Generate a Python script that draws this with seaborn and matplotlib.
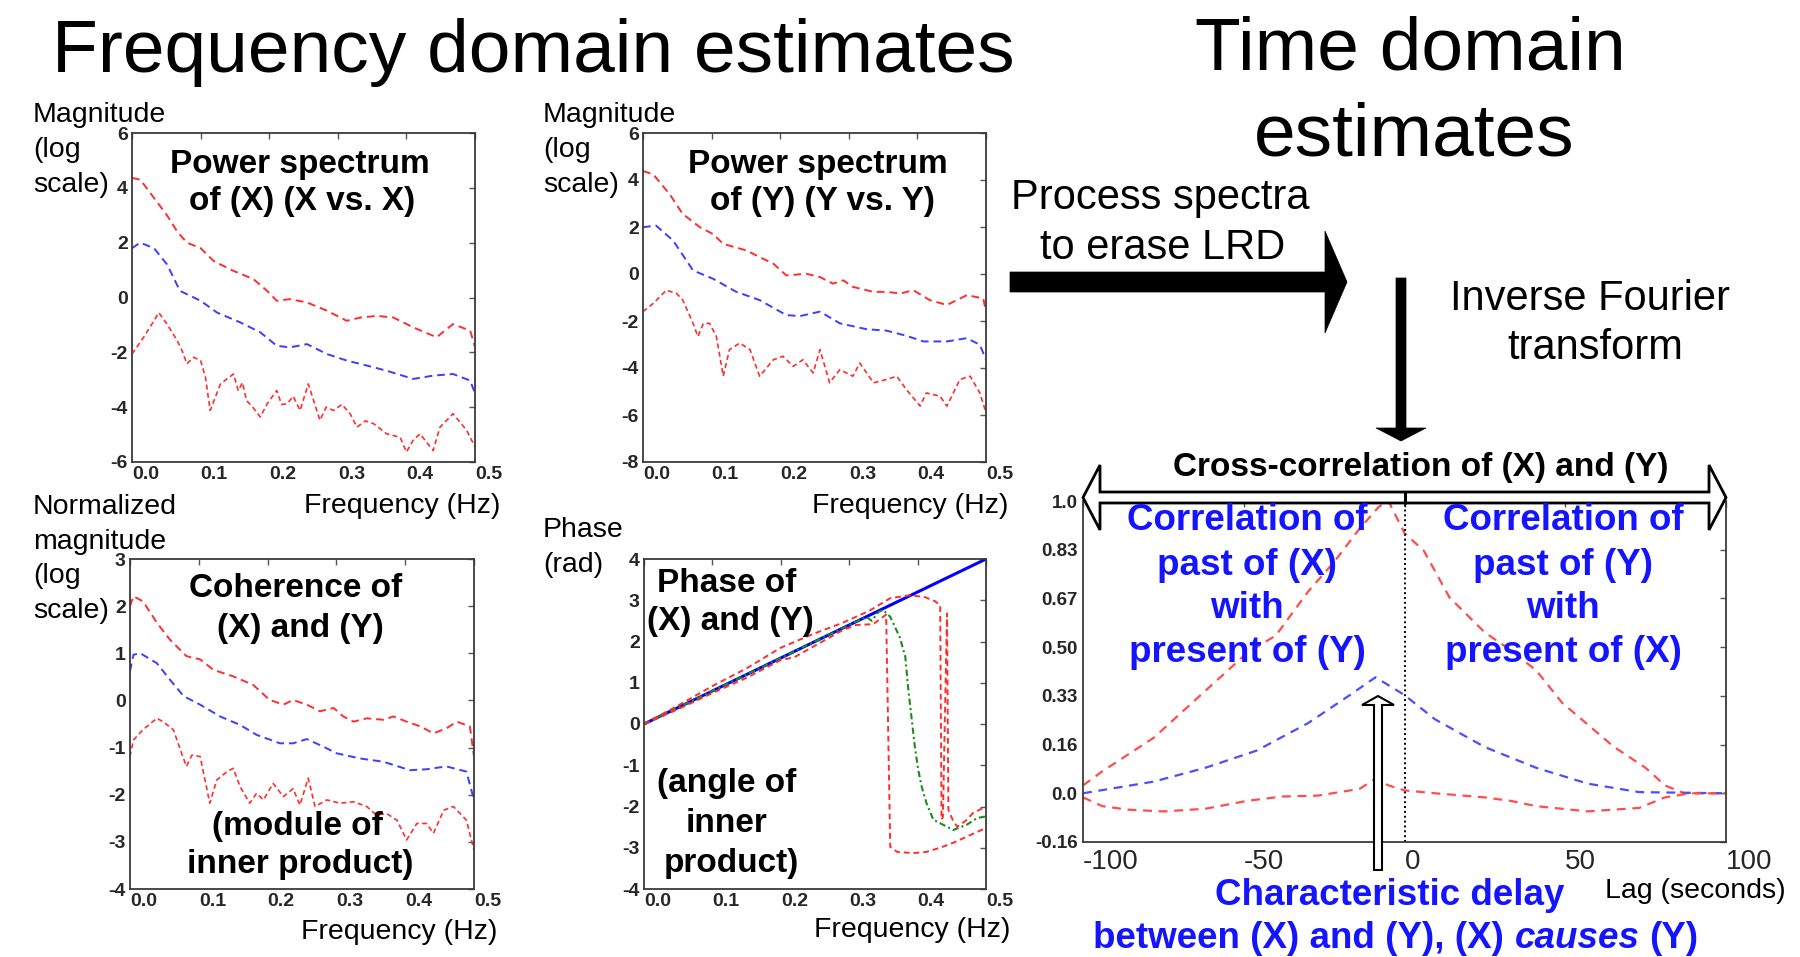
import matplotlib
matplotlib.use('Agg')
import matplotlib.pyplot as plt
from matplotlib.patches import Polygon
import seaborn as sns

# ---------------- data ----------------
freq_ticks = [0.0, 0.1, 0.2, 0.3, 0.4, 0.5]
freq_labels = ['0.0', '0.1', '0.2', '0.3', '0.4', '0.5']

# power spectrum of X (upper bound, estimate, lower bound)
psx_hi_f = [0.0, 0.012, 0.036, 0.051, 0.066, 0.08, 0.1, 0.119, 0.148, 0.177, 0.197, 0.211,
            0.23, 0.255, 0.284, 0.313, 0.333, 0.357, 0.381, 0.41, 0.444, 0.468, 0.493, 0.5]
psx_hi_v = [4.36, 4.3, 3.5, 3.0, 2.4, 2.0, 1.8, 1.33, 0.97, 0.67, 0.24, -0.12,
            -0.06, -0.18, -0.48, -0.85, -0.73, -0.67, -0.73, -1.09, -1.45, -0.97, -1.21, -1.8]
psx_mid_f = [0.0, 0.012, 0.032, 0.051, 0.07, 0.1, 0.124, 0.158, 0.187, 0.211, 0.23, 0.255,
             0.284, 0.313, 0.342, 0.371, 0.41, 0.439, 0.468, 0.493, 0.5]
psx_mid_v = [1.8, 2.0, 1.8, 1.21, 0.24, -0.12, -0.55, -0.91, -1.27, -1.76, -1.82, -1.7,
             -2.06, -2.3, -2.48, -2.67, -2.97, -2.85, -2.79, -3.03, -3.5]
psx_lo_f = [0.0, 0.017, 0.032, 0.039, 0.051, 0.066, 0.073, 0.08, 0.09, 0.1, 0.107, 0.114,
            0.129, 0.148, 0.155, 0.161, 0.167, 0.176, 0.187, 0.197, 0.211, 0.218, 0.226, 0.235,
            0.245, 0.257, 0.274, 0.283, 0.294, 0.306, 0.318, 0.328, 0.34, 0.352, 0.371, 0.391,
            0.4, 0.41, 0.42, 0.43, 0.439, 0.449, 0.468, 0.488, 0.5]
psx_lo_v = [-2.06, -1.45, -0.85, -0.55, -0.97, -1.58, -1.94, -2.42, -2.18, -2.3, -2.9, -4.12,
            -3.15, -2.79, -3.4, -3.1, -3.76, -4.0, -4.36, -3.88, -3.39, -3.9, -3.88, -3.6,
            -4.12, -3.15, -4.48, -4.0, -4.12, -3.9, -4.24, -4.73, -4.5, -4.6, -4.97, -5.1,
            -5.64, -5.2, -4.97, -5.3, -5.58, -4.73, -4.24, -4.85, -5.45]

# power spectrum of Y
psy_hi_f = [0.0, 0.015, 0.039, 0.058, 0.083, 0.102, 0.117, 0.151, 0.17, 0.19, 0.209, 0.238,
            0.258, 0.277, 0.292, 0.306, 0.336, 0.355, 0.375, 0.394, 0.418, 0.443, 0.472, 0.496, 0.5]
psy_hi_v = [4.38, 4.24, 3.39, 2.55, 1.99, 1.7, 1.28, 1.0, 0.72, 0.44, -0.06, 0.01,
            -0.13, -0.41, -0.27, -0.55, -0.76, -0.76, -0.83, -0.69, -1.11, -1.32, -0.9, -1.04, -1.6]
psy_mid_f = [0.0, 0.019, 0.044, 0.073, 0.102, 0.136, 0.17, 0.209, 0.229, 0.258, 0.287, 0.326,
             0.355, 0.384, 0.409, 0.443, 0.472, 0.491, 0.5]
psy_mid_v = [1.99, 2.06, 1.42, 0.15, -0.2, -0.76, -1.11, -1.75, -1.79, -1.6, -2.1, -2.35,
             -2.41, -2.63, -2.87, -2.87, -2.73, -3.01, -3.65]
psy_lo_f = [0.0, 0.015, 0.034, 0.049, 0.058, 0.073, 0.08, 0.088, 0.097, 0.107, 0.117, 0.126,
            0.141, 0.156, 0.17, 0.19, 0.204, 0.219, 0.233, 0.248, 0.258, 0.272, 0.287, 0.306,
            0.316, 0.336, 0.355, 0.37, 0.384, 0.404, 0.413, 0.433, 0.443, 0.462, 0.477, 0.491, 0.5]
psy_lo_v = [-1.6, -1.25, -0.69, -0.83, -1.11, -2.1, -2.66, -2.1, -2.1, -2.66, -4.35, -3.22,
            -2.94, -3.22, -4.35, -3.65, -3.5, -3.93, -3.65, -4.21, -3.22, -4.63, -4.07, -4.35,
            -3.79, -4.63, -4.49, -4.35, -4.92, -5.62, -5.06, -5.2, -5.62, -4.49, -4.35, -5.06, -5.9]

# coherence of X and Y
coh_hi_f = [0.0, 0.005, 0.019, 0.039, 0.058, 0.082, 0.102, 0.121, 0.15, 0.179, 0.203, 0.223,
            0.237, 0.257, 0.276, 0.296, 0.31, 0.325, 0.344, 0.368, 0.383, 0.402, 0.422, 0.441,
            0.46, 0.475, 0.494, 0.5]
coh_hi_v = [2.0, 2.21, 2.1, 1.65, 1.29, 0.94, 0.87, 0.65, 0.51, 0.33, 0.01, -0.09,
            0.01, -0.09, -0.23, -0.16, -0.34, -0.45, -0.38, -0.41, -0.34, -0.45, -0.55, -0.7,
            -0.59, -0.45, -0.55, -1.19]
coh_mid_f = [0.0, 0.005, 0.015, 0.039, 0.058, 0.078, 0.102, 0.131, 0.16, 0.184, 0.218, 0.237,
             0.257, 0.281, 0.3, 0.334, 0.368, 0.407, 0.431, 0.46, 0.489, 0.5]
coh_mid_v = [0.62, 0.97, 1.0, 0.79, 0.44, 0.09, -0.09, -0.34, -0.52, -0.73, -0.91, -0.91,
             -0.82, -0.98, -1.12, -1.23, -1.3, -1.48, -1.46, -1.4, -1.51, -2.11]
coh_lo_f = [0.0, 0.005, 0.019, 0.039, 0.048, 0.063, 0.075, 0.082, 0.09, 0.102, 0.109, 0.116,
            0.126, 0.141, 0.15, 0.16, 0.174, 0.184, 0.194, 0.208, 0.223, 0.237, 0.247, 0.259,
            0.269, 0.286, 0.305, 0.325, 0.344, 0.358, 0.373, 0.388, 0.402, 0.417, 0.431, 0.441,
            0.456, 0.47, 0.489, 0.5]
coh_lo_v = [-1.19, -0.84, -0.62, -0.38, -0.45, -0.62, -1.12, -1.4, -1.16, -1.19, -1.69, -2.18,
            -1.69, -1.51, -1.44, -1.83, -2.18, -1.97, -2.11, -1.76, -2.04, -1.87, -2.22, -1.65,
            -2.25, -2.11, -2.18, -2.15, -2.25, -2.43, -2.4, -2.54, -2.96, -2.61, -2.61, -2.82,
            -2.33, -2.25, -2.54, -3.18]

# phase of X and Y
ph_line_f = [0.0, 0.5]
ph_line_v = [0.0, 4.0]
ph_hi_f = [0.0, 0.05, 0.1, 0.15, 0.2, 0.25, 0.29, 0.31, 0.33, 0.35, 0.36, 0.389, 0.41, 0.425,
           0.433, 0.435, 0.437, 0.443, 0.445, 0.452, 0.458, 0.47, 0.481, 0.5]
ph_hi_v = [0.0, 0.45, 0.92, 1.35, 1.85, 2.2, 2.45, 2.6, 2.75, 2.95, 3.05, 3.12, 3.08, 2.98,
           2.88, -2.32, -2.25, 2.68, -2.08, -2.35, -2.49, -2.35, -2.16, -2.0]
ph_mid_f = [0.0, 0.1, 0.2, 0.3, 0.325, 0.333, 0.343, 0.35, 0.36, 0.374, 0.382, 0.386, 0.391,
            0.396, 0.401, 0.406, 0.413, 0.423, 0.437, 0.452, 0.472, 0.487, 0.5]
ph_mid_v = [0.0, 0.8, 1.6, 2.4, 2.6, 2.5, 2.72, 2.76, 2.6, 2.1, 1.63, 0.9, 0.17,
            -0.55, -1.12, -1.52, -1.92, -2.32, -2.44, -2.57, -2.44, -2.28, -2.24]
ph_lo_f = [0.0, 0.05, 0.1, 0.15, 0.2, 0.22, 0.25, 0.29, 0.31, 0.335, 0.354, 0.36, 0.37, 0.393,
           0.413, 0.433, 0.452, 0.472, 0.5]
ph_lo_v = [0.0, 0.36, 0.75, 1.12, 1.55, 1.62, 1.9, 2.27, 2.4, 2.42, 2.65, -2.98, -3.1, -3.13,
           -3.1, -3.0, -2.88, -2.73, -2.52]

# cross-correlation of X and Y
xc_hi_lag = [-100, -94, -78, -62, -49, -40, -30, -22, -14, -8, -5, 0, 6, 14, 25, 33, 41, 49,
             65, 75, 81, 87, 100]
xc_hi_r = [0.027, 0.075, 0.19, 0.35, 0.48, 0.54, 0.69, 0.79, 0.905, 0.98, 1.0, 0.89, 0.83,
           0.67, 0.55, 0.49, 0.42, 0.31, 0.16, 0.087, 0.027, 0.0, 0.0]
xc_mid_lag = [-100, -78, -62, -46, -30, -17, -9, 0, 9.5, 25, 41, 57, 73, 100]
xc_mid_r = [0.0, 0.04, 0.087, 0.146, 0.24, 0.336, 0.397, 0.336, 0.253, 0.158, 0.087, 0.033,
            0.004, 0.0]
xc_lo_lag = [-100, -94, -86, -75, -62, -49, -38, -27, -14, -9, -5, 0, 9.5, 25, 33, 41, 57,
             73, 81, 89, 100]
xc_lo_r = [-0.014, -0.044, -0.056, -0.062, -0.053, -0.026, -0.011, -0.008, 0.015, 0.05, 0.027,
           0.01, 0.0, -0.014, -0.026, -0.044, -0.062, -0.05, -0.014, 0.0, 0.0]
lag_ticks = [-100, -50, 0, 50, 100]
lag_labels = ['-100', '-50', '0', '50', '100']
r_ticks = [1.0, 5 / 6, 4 / 6, 3 / 6, 2 / 6, 1 / 6, 0.0, -1 / 6]
r_labels = ['1.0', '0.83', '0.67', '0.50', '0.33', '0.16', '0.0', '-0.16']

# ---------------- style ----------------
sns.set_style('white')
plt.rcParams['font.family'] = ['Liberation Sans', 'DejaVu Sans']

W, H = 1800, 957
RED = '#ff2e2e'
BLUE = '#3d3dff'
GREEN = '#1a8c1a'
TXT_BLUE = '#1414ff'

fig = plt.figure(figsize=(W / 100, H / 100), dpi=100)


def px_axes(l, t, r, b):
    return fig.add_axes([l / W, 1 - b / H, (r - l) / W, (b - t) / H])


def dashed(ax, x, y, color, lw=1.4, ls=(0, (4, 2.5))):
    sns.lineplot(x=x, y=y, ax=ax, color=color, linewidth=lw, linestyle=ls,
                 sort=False, estimator=None, errorbar=None)


def style_axes(ax, xlim, ylim, xt, xl, yt, yl, xsize, ysize, xweight, yweight):
    ax.set_xlim(*xlim)
    ax.set_ylim(*ylim)
    ax.set_xticks(xt)
    ax.set_xticklabels(xl, fontsize=xsize, fontweight=xweight, ha='left')
    ax.set_yticks(yt)
    ax.set_yticklabels(yl, fontsize=ysize, fontweight=yweight)
    ax.tick_params(direction='in', top=True, right=True, length=4, width=1,
                   color='#555555', pad=3)
    ax.set_xlabel('')
    ax.set_ylabel('')
    for s in ax.spines.values():
        s.set_color('#3a3a3a')
        s.set_linewidth(1.3)


def spec_axes(ax, ylim, yt):
    style_axes(ax, (0, 0.5), ylim, freq_ticks, freq_labels, yt, [str(v) for v in yt],
               14, 14, 'bold', 'bold')


# power spectrum X
ax1 = px_axes(132, 133, 475, 462)
dashed(ax1, psx_hi_f, psx_hi_v, RED)
dashed(ax1, psx_mid_f, psx_mid_v, BLUE)
dashed(ax1, psx_lo_f, psx_lo_v, RED, lw=1.2, ls=(0, (3, 2)))
spec_axes(ax1, (-6, 6), [-6, -4, -2, 0, 2, 4, 6])

# power spectrum Y
ax2 = px_axes(643, 133, 986, 462)
dashed(ax2, psy_hi_f, psy_hi_v, RED)
dashed(ax2, psy_mid_f, psy_mid_v, BLUE)
dashed(ax2, psy_lo_f, psy_lo_v, RED, lw=1.2, ls=(0, (3, 2)))
spec_axes(ax2, (-8, 6), [-8, -6, -4, -2, 0, 2, 4, 6])

# coherence
ax3 = px_axes(130, 559, 474, 889)
dashed(ax3, coh_hi_f, coh_hi_v, RED)
dashed(ax3, coh_mid_f, coh_mid_v, BLUE)
dashed(ax3, coh_lo_f, coh_lo_v, RED, lw=1.2, ls=(0, (3, 2)))
spec_axes(ax3, (-4, 3), [-4, -3, -2, -1, 0, 1, 2, 3])

# phase
ax4 = px_axes(644, 559, 986, 889)
sns.lineplot(x=ph_line_f, y=ph_line_v, ax=ax4, color='#0000ff', linewidth=2.2,
             sort=False, estimator=None, errorbar=None)
dashed(ax4, ph_mid_f, ph_mid_v, GREEN, lw=1.5, ls=(0, (3, 1.5, 1, 1.5)))
dashed(ax4, ph_hi_f, ph_hi_v, RED, lw=1.4, ls=(0, (3, 2)))
dashed(ax4, ph_lo_f, ph_lo_v, RED, lw=1.4, ls=(0, (3, 2)))
spec_axes(ax4, (-4, 4), [-4, -3, -2, -1, 0, 1, 2, 3, 4])

# cross-correlation
ax5 = px_axes(1083, 501, 1726, 842)
dashed(ax5, xc_hi_lag, xc_hi_r, '#ff4d4d', lw=1.6, ls=(0, (4, 3)))
dashed(ax5, xc_mid_lag, xc_mid_r, '#4d4dff', lw=1.6, ls=(0, (4, 3)))
dashed(ax5, xc_lo_lag, xc_lo_r, '#ff4d4d', lw=1.6, ls=(0, (4, 3)))
ax5.axvline(0, color='black', linewidth=1.4, linestyle=(0, (1, 1.5)))
style_axes(ax5, (-100, 100), (-1 / 6, 1.0), lag_ticks, lag_labels, r_ticks, r_labels,
           20, 13.5, 'normal', 'bold')
ax5.tick_params(axis='x', pad=5)
ax5.tick_params(axis='y', pad=4)
ax5.spines['top'].set_visible(False)

# ---------------- overlay: text and arrows in pixel coords ----------------
ov = fig.add_axes([0, 0, 1, 1])
ov.set_xlim(0, W)
ov.set_ylim(H, 0)
ov.axis('off')
ov.set_zorder(10)
ov.patch.set_visible(False)


def t(x, y, s, size, ha='left', weight='normal', color='black', style='normal'):
    return ov.text(x, y, s, fontsize=size, ha=ha, va='baseline', fontweight=weight,
                   color=color, fontstyle=style)


# headings
t(533, 72, 'Frequency domain estimates', 54, ha='center')
t(1410, 70, 'Time domain', 54, ha='center')
t(1414, 156, 'estimates', 54, ha='center')

# axis captions
for x0 in (33, 543):
    t(x0, 122, 'Magnitude', 20.5)
    t(x0, 157, '(log', 20.5)
    t(x0, 192, 'scale)', 20.5)
t(33, 514, 'Normalized', 20.5)
t(33, 549, 'magnitude', 20.5)
t(33, 583, '(log', 20.5)
t(33, 618, 'scale)', 20.5)
t(543, 537, 'Phase', 20.5)
t(543, 572, '(rad)', 20.5)
t(500, 513, 'Frequency (Hz)', 20.5, ha='right')
t(1008, 513, 'Frequency (Hz)', 20.5, ha='right')
t(497, 939, 'Frequency (Hz)', 20.5, ha='right')
t(1010, 937, 'Frequency (Hz)', 20.5, ha='right')
t(1786, 898, 'Lag (seconds)', 20.5, ha='right')

# panel titles
t(300, 173, 'Power spectrum', 24, ha='center', weight='bold')
t(302, 210, 'of (X) (X vs. X)', 24, ha='center', weight='bold')
t(818, 173, 'Power spectrum', 24, ha='center', weight='bold')
t(822, 210, 'of (Y) (Y vs. Y)', 24, ha='center', weight='bold')
t(296, 597, 'Coherence of', 24, ha='center', weight='bold')
t(300, 637, '(X) and (Y)', 24, ha='center', weight='bold')
t(297, 835, '(module of', 24, ha='center', weight='bold')
t(300, 873, 'inner product)', 24, ha='center', weight='bold')
t(727, 592, 'Phase of', 24, ha='center', weight='bold')
t(730, 630, '(X) and (Y)', 24, ha='center', weight='bold')
t(727, 792, '(angle of', 24, ha='center', weight='bold')
t(727, 832, 'inner', 24, ha='center', weight='bold')
t(731, 872, 'product)', 24, ha='center', weight='bold')

# process notes
t(1160, 209, 'Process spectra', 30, ha='center')
t(1163, 259, 'to erase LRD', 30, ha='center')
t(1590, 310, 'Inverse Fourier', 30, ha='center')
t(1595, 359, 'transform', 30, ha='center')

# big arrows
ov.add_patch(Polygon([(1010, 272), (1325, 272), (1325, 231), (1347, 282), (1325, 333),
                      (1325, 292), (1010, 292)], closed=True, facecolor='black',
                     edgecolor='black', linewidth=0.5))
ov.add_patch(Polygon([(1396, 278), (1406, 278), (1406, 428), (1426, 428), (1401, 441),
                      (1376, 428), (1396, 428)], closed=True, facecolor='black',
                     edgecolor='black', linewidth=0.5))

# cross-correlation header with double arrow
t(1421, 476, 'Cross-correlation of (X) and (Y)', 24, ha='center', weight='bold')
ov.add_patch(Polygon([(1083, 497.5), (1100, 465), (1100, 492), (1709, 492), (1709, 465),
                      (1726, 497.5), (1709, 530), (1709, 503), (1100, 503), (1100, 530)],
                     closed=True, facecolor='white', edgecolor='black', linewidth=2.0))
ov.plot([1404.5, 1404.5], [492, 503], color='black', linewidth=2.2)

# hollow arrow marking the delay
ov.add_patch(Polygon([(1374, 870), (1374, 705), (1362, 705), (1378, 696), (1394, 705),
                      (1382, 705), (1382, 870)], closed=True, facecolor='white',
                     edgecolor='black', linewidth=1.5))

# blue annotations
rows = [530, 575, 618, 662]
left_txt = ['Correlation of', 'past of (X)', 'with', 'present of (Y)']
right_txt = ['Correlation of', 'past of (Y)', 'with', 'present of (X)']
for y0, a, b in zip(rows, left_txt, right_txt):
    t(1247, y0, a, 26.5, ha='center', weight='bold', color=TXT_BLUE)
    t(1563, y0, b, 26.5, ha='center', weight='bold', color=TXT_BLUE)
t(1390, 905, 'Characteristic delay', 26.5, ha='center', weight='bold', color=TXT_BLUE)

# mixed-style last line
renderer = fig.canvas.get_renderer()
parts = [('between (X) and (Y), (X)', 'normal'), ('causes', 'italic'), ('(Y)', 'normal')]
pieces = [t(0, 948, s, 26.5, weight='bold', color=TXT_BLUE, style=st) for s, st in parts]
widths = [p.get_window_extent(renderer=renderer).width for p in pieces]
gap = 0.278 * 26.5 * 100 / 72
x0 = 1396 - (sum(widths) + gap * (len(widths) - 1)) / 2
for p, w in zip(pieces, widths):
    p.set_x(x0)
    x0 += w + gap

fig.savefig('out.png', dpi=100)
